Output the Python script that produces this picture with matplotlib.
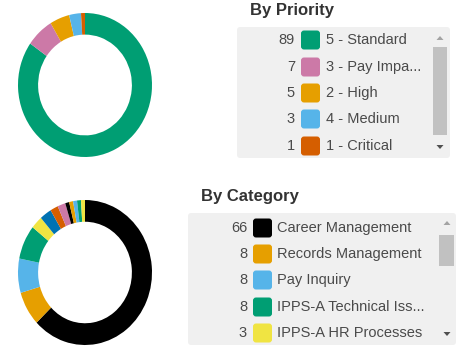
import matplotlib
matplotlib.use("Agg")
import matplotlib.pyplot as plt
from matplotlib.patches import FancyBboxPatch, Rectangle, Polygon

plt.rcParams['font.family'] = ['Liberation Sans', 'DejaVu Sans']

# ---- data ----
priority_labels = ["5 - Standard", "3 - Pay Impa...", "2 - High", "4 - Medium", "1 - Critical"]
priority_counts = [89, 7, 5, 3, 1]
priority_colors = ["#009E73", "#CC79A7", "#E69F00", "#56B4E9", "#D55E00"]

category_labels = ["Career Management", "Records Management", "Pay Inquiry",
                   "IPPS-A Technical Iss...", "IPPS-A HR Processes"]
category_counts = [66, 8, 8, 8, 3, 3, 2, 2, 1, 1, 1, 1, 1]
category_colors = ["#000000", "#E69F00", "#56B4E9", "#009E73", "#F0E442",
                   "#0072B2", "#D55E00", "#CC79A7",
                   "#000000", "#E69F00", "#56B4E9", "#009E73", "#F0E442"]

W, H = 461, 354
fig = plt.figure(figsize=(W / 100, H / 100), dpi=100)


def px_axes(x0, y0, x1, y1):
    """Axes placed by pixel box (top-left origin)."""
    return fig.add_axes([x0 / W, 1 - y1 / H, (x1 - x0) / W, (y1 - y0) / H])


def donut(box, values, colors):
    ax = px_axes(*box)
    ax.pie(values, colors=colors, startangle=90, counterclock=False,
           radius=1.0, wedgeprops=dict(width=0.3, linewidth=0))
    ax.set_aspect('auto')
    ax.set_xlim(-1, 1)
    ax.set_ylim(-1, 1)
    ax.axis('off')


donut((18, 13, 152, 157), priority_counts, priority_colors)
donut((18, 200, 152, 345), category_counts, category_colors)

# overlay in pixel coordinates for the legend panels
ov = fig.add_axes([0, 0, 1, 1])
ov.set_xlim(0, W)
ov.set_ylim(H, 0)
ov.axis('off')

TXT = "#4a4a4a"


def panel(title, title_xy, box, rows_y, num_x, sw_x, lab_x, labels, counts, colors,
          thumb, arrow_x, arrow_up_y, arrow_dn_y):
    ov.text(title_xy[0], title_xy[1], title, fontsize=12, fontweight='bold',
            color="#333333", ha='left', va='center')
    x0, y0, x1, y1 = box
    ov.add_patch(FancyBboxPatch((x0, y0), x1 - x0, y1 - y0,
                                boxstyle="round,pad=0,rounding_size=3",
                                facecolor="#f0f0f0", edgecolor="none"))
    for y, lab, n, c in zip(rows_y, labels, counts, colors):
        ov.text(num_x, y, str(n), fontsize=10.5, color=TXT, ha='right', va='center')
        ov.add_patch(FancyBboxPatch((sw_x, y - 9.5), 19, 19,
                                    boxstyle="round,pad=0,rounding_size=3",
                                    facecolor=c, edgecolor="none"))
        ov.text(lab_x, y, lab, fontsize=10.5, color=TXT, ha='left', va='center')
    tx0, ty0, tx1, ty1 = thumb
    ov.add_patch(Rectangle((tx0, ty0), tx1 - tx0, ty1 - ty0,
                           facecolor="#c1c1c1", edgecolor="none"))
    ov.add_patch(Polygon([(arrow_x - 3.5, arrow_up_y + 2), (arrow_x + 3.5, arrow_up_y + 2),
                          (arrow_x, arrow_up_y - 2)], closed=True,
                         facecolor="#a3a3a3", edgecolor="none"))
    ov.add_patch(Polygon([(arrow_x - 3.5, arrow_dn_y - 2), (arrow_x + 3.5, arrow_dn_y - 2),
                          (arrow_x, arrow_dn_y + 2)], closed=True,
                         facecolor="#505050", edgecolor="none"))


panel("By Priority", (250, 11), (237, 27, 450, 158),
      [40, 67, 93, 119, 146], 295, 301, 326,
      priority_labels, priority_counts, priority_colors,
      (433, 47, 447, 135), 440, 38, 147)

panel("By Category", (201, 197), (188, 213, 456, 345),
      [228, 254, 280, 307, 333], 247, 253, 277,
      category_labels, category_counts[:5], category_colors[:5],
      (439, 235, 454, 266), 447, 223, 334)

fig.savefig("out.png", dpi=100)
